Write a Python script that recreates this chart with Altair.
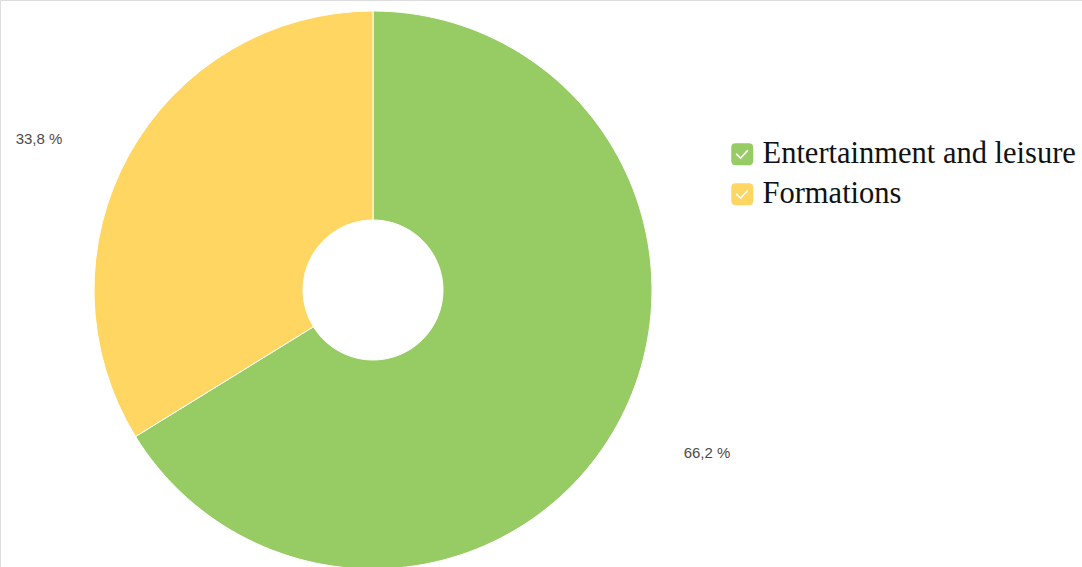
import altair as alt
import pandas as pd

categories = ["Entertainment and leisure", "Formations"]
values = [66.2, 33.8]
labels = ["66,2 %", "33,8 %"]
colors = ["#97cc64", "#ffd662"]

df = pd.DataFrame({"category": categories, "value": values, "label": labels, "order": [0, 1]})

CX, CY = 373, 290

# rounded square with a check-mark cut out (reverse winding -> hole)
SYMBOL = (
    "M-1,-0.6 Q-1,-1 -0.6,-1 L0.6,-1 Q1,-1 1,-0.6 L1,0.6 Q1,1 0.6,1 L-0.6,1 Q-1,1 -1,0.6 Z "
    "M-0.6,0.02 L-0.15,0.46 L0.55,-0.3 L0.45,-0.4 L-0.15,0.26 L-0.5,-0.08 Z"
)

base = alt.Chart(df).encode(
    theta=alt.Theta("value:Q", stack=True),
    order=alt.Order("order:Q"),
)

arcs = base.mark_arc(outerRadius=279, innerRadius=70, stroke="white", strokeWidth=1).encode(
    x=alt.value(CX),
    y=alt.value(CY),
    color=alt.Color(
        "category:N",
        scale=alt.Scale(domain=categories, range=colors),
        legend=alt.Legend(
            title=None,
            orient="none",
            legendX=727,
            legendY=139,
            labelFont="Liberation Serif",
            labelFontSize=30.5,
            labelColor="#111111",
            labelLimit=0,
            symbolType=SYMBOL,
            symbolSize=484,
            symbolStrokeWidth=0,
            symbolOpacity=1,
            rowPadding=9,
            labelOffset=5,
        ),
    ),
)

text = base.mark_text(radius=369, thetaOffset=-0.07, font="Liberation Sans", fontSize=15, color="#4a4a4a").encode(
    x=alt.value(CX),
    y=alt.value(CY + 6),
    text="label:N",
)

chart = (
    alt.layer(arcs, text)
    .properties(width=1082, height=567, autosize=alt.AutoSizeParams(type="none"), padding=0)
    .configure_view(stroke=None)
    .configure(background="white")
)

chart.save("out.html", embed_options={"renderer": "svg", "actions": False})
